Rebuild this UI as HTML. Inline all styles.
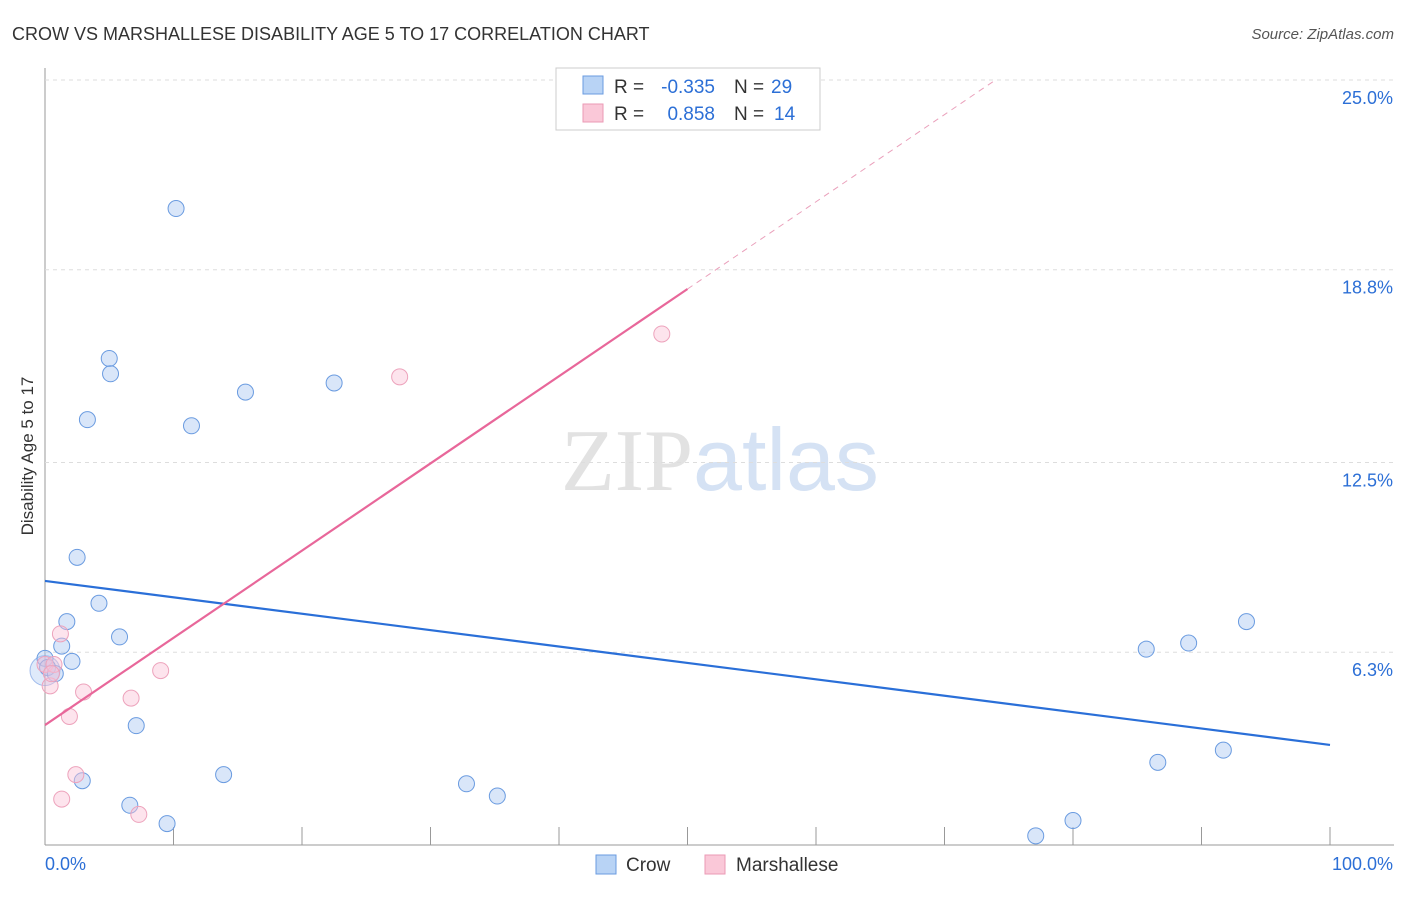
<!DOCTYPE html>
<html><head><meta charset="utf-8"><style>
body{margin:0;background:#fff;font-family:"Liberation Sans",sans-serif}
</style></head><body>
<svg id="c" width="1406" height="892" xmlns="http://www.w3.org/2000/svg" font-family="Liberation Sans, sans-serif">
<text x="12" y="40" font-size="18" fill="#333">CROW VS MARSHALLESE DISABILITY AGE 5 TO 17 CORRELATION CHART</text>
<text x="1394" y="39" font-size="15" fill="#555" text-anchor="end" font-style="italic">Source: ZipAtlas.com</text>
<text x="720" y="490" font-size="88" text-anchor="middle"><tspan fill="#e2e2e2" font-family="Liberation Serif, serif">ZIP</tspan><tspan fill="#d5e2f4">atlas</tspan></text>
<text transform="translate(33,456) rotate(-90)" font-size="17" fill="#333" text-anchor="middle">Disability Age 5 to 17</text>
<g id="grid"></g><g id="marks"></g>
<g>
<rect x="556" y="68" width="264" height="62" fill="#fff" stroke="#ccc"/>
<rect x="583" y="76" width="20" height="18" fill="#b8d3f5" stroke="#6a9be0"/>
<rect x="583" y="104" width="20" height="18" fill="#fac8d8" stroke="#eb9ab5"/>
<text x="614" y="93" font-size="19" fill="#333">R =</text>
<text x="715" y="93" font-size="19" fill="#2c6fd6" text-anchor="end">-0.335</text>
<text x="734" y="93" font-size="19" fill="#333">N =</text>
<text x="771" y="93" font-size="19" fill="#2c6fd6">29</text>
<text x="614" y="120" font-size="19" fill="#333">R =</text>
<text x="715" y="120" font-size="19" fill="#2c6fd6" text-anchor="end">0.858</text>
<text x="734" y="120" font-size="19" fill="#333">N =</text>
<text x="774" y="120" font-size="19" fill="#2c6fd6">14</text>
</g>
<g>
<rect x="596" y="855" width="20" height="19" fill="#b8d3f5" stroke="#6a9be0"/>
<text x="626" y="871" font-size="19" fill="#333">Crow</text>
<rect x="705" y="855" width="20" height="19" fill="#fac8d8" stroke="#eb9ab5"/>
<text x="736" y="871" font-size="19" fill="#333">Marshallese</text>
</g>
</svg>
<script>
const yTicks=[25.0,18.8,12.5,6.3];
const yTickLabels=["25.0%","18.8%","12.5%","6.3%"];
const crowX=[0.0,0.2,0.8,10.2,5.0,5.1,3.3,15.6,22.5,11.4,2.5,4.2,1.7,1.3,5.8,2.1,7.1,2.9,6.6,9.5,13.9,32.8,35.2,77.1,80.0,85.7,89.0,93.5,91.7,86.6];
const crowY=[6.1,5.8,5.6,20.8,15.9,15.4,13.9,14.8,15.1,13.7,9.4,7.9,7.3,6.5,6.8,6.0,3.9,2.1,1.3,0.7,2.3,2.0,1.6,0.3,0.8,6.4,6.6,7.3,3.1,2.7];
const marX=[0.0,0.4,0.7,1.2,1.9,3.0,2.4,1.3,6.7,9.0,7.3,27.6,48.0,0.5];
const marY=[5.9,5.2,5.9,6.9,4.2,5.0,2.3,1.5,4.8,5.7,1.0,15.3,16.7,5.6];
const crowTrend=[8.63,3.27];
const marTrend=[3.92,0.285];
const ns="http://www.w3.org/2000/svg";
const X=v=>45+v*12.85, Y=v=>845-v*30.6;
function mk(p,t,a){const e=document.createElementNS(ns,t);for(const k in a)e.setAttribute(k,a[k]);p.appendChild(e);return e;}
const g=document.getElementById('grid'),m=document.getElementById('marks');
let ax=mk(g,'line',{x1:45,y1:68,x2:45,y2:845,stroke:'#999'});

let bx=mk(g,'line',{x1:45,y1:845,x2:1394,y2:845,stroke:'#999'});

for(let i=0;i<=10;i++){let t=mk(g,'line',{x1:X(i*10),y1:827,x2:X(i*10),y2:845,stroke:'#999'});
}
yTicks.forEach((v,i)=>{let l=mk(g,'line',{x1:45,x2:1394,y1:Y(v),y2:Y(v),stroke:'#ddd','stroke-dasharray':'4,4'});

let t=mk(g,'text',{x:1393,y:Y(v)+24,'font-size':18,fill:'#2c6fd6','text-anchor':'end'});t.textContent=yTickLabels[i];
});
let x0=mk(g,'text',{x:45,y:870,'font-size':18,fill:'#2c6fd6'});x0.textContent='0.0%';

let x1=mk(g,'text',{x:1393,y:870,'font-size':18,fill:'#2c6fd6','text-anchor':'end'});x1.textContent='100.0%';

let cc=mk(m,'circle',{cx:X(0),cy:Y(5.7),r:15,fill:'rgba(150,185,240,0.3)',stroke:'rgba(80,130,220,0.5)'});

crowX.forEach((v,i)=>{let c=mk(m,'circle',{cx:X(v),cy:Y(crowY[i]),r:8,fill:'rgba(170,200,242,0.45)',stroke:'#6a9be0','stroke-width':1});
});
marX.forEach((v,i)=>{let c=mk(m,'circle',{cx:X(v),cy:Y(marY[i]),r:8,fill:'rgba(250,195,215,0.45)',stroke:'#eda3bc','stroke-width':1});
});
let cl=mk(m,'line',{x1:X(0),y1:Y(crowTrend[0]),x2:X(100),y2:Y(crowTrend[1]),stroke:'#2a6fd8','stroke-width':2.2});

let me=(25-marTrend[0])/marTrend[1];
let ml=mk(m,'line',{x1:X(0),y1:Y(marTrend[0]),x2:X(50),y2:Y(marTrend[0]+marTrend[1]*50),stroke:'#e8679a','stroke-width':2.2});

let md=mk(m,'line',{x1:X(50),y1:Y(marTrend[0]+marTrend[1]*50),x2:X(me),y2:Y(25),stroke:'#eaa0bb','stroke-width':1,'stroke-dasharray':'6,5'});

</script>
</body></html>
